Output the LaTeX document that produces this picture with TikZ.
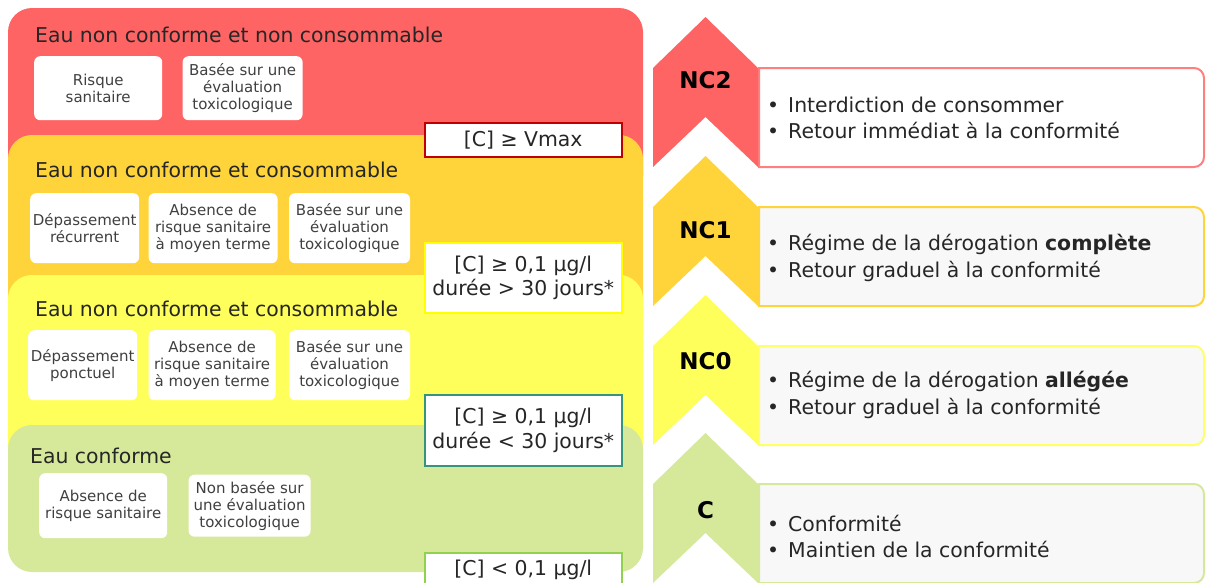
\documentclass[tikz,border=0pt]{standalone}
\usepackage{fontspec}
\setmainfont{DejaVu Sans}
\usetikzlibrary{positioning}

\definecolor{ncred}{HTML}{FF6464}
\definecolor{ncorange}{HTML}{FFD43B}
\definecolor{ncyellow}{HTML}{FFFF5C}
\definecolor{ncgreen}{HTML}{D6E99B}
\definecolor{vmaxred}{HTML}{C00000}
\definecolor{longyellow}{HTML}{FFFF00}
\definecolor{shortteal}{HTML}{36947A}
\definecolor{confgreen}{HTML}{92D050}
\definecolor{nctwoline}{HTML}{FF7F7F}
\definecolor{nczeroline}{HTML}{FFFF66}
\definecolor{boxgray}{HTML}{F8F8F8}

\newcommand{\puce}{•\hspace{9pt}}

\begin{document}
\begin{tikzpicture}[
    x=1pt, y=-1pt,
    node distance=10pt,
    panel/.style={rounded corners=24pt},
    title/.style={anchor=base west, inner sep=0pt, font=\fontsize{20.4}{24}\selectfont, text=black!85},
    cbox/.style={rectangle, fill=white, rounded corners=6pt, inner sep=0pt, align=center, font=\fontsize{15}{17}\selectfont, text=black!75},
    seuil/.style={rectangle, fill=white, line width=2.5pt, inner sep=0pt, minimum width=197pt, anchor=north west, align=center, font=\fontsize{20.4}{24.5}\selectfont, text=black!85},
    niveau/.style={inner sep=0pt, font=\fontsize{23}{23}\selectfont\bfseries},
    puces/.style={anchor=west, inner sep=0pt, align=left, font=\fontsize{20.4}{26.5}\selectfont, text=black!85}
]
    \useasboundingbox (0,0) rectangle (1206,582);

    % Panels
    \fill[ncred, panel] (8,8) rectangle (643,200);
    \fill[ncorange, panel] (8,135) rectangle (643,340);
    \fill[ncyellow, panel] (8,275) rectangle (643,480);
    \fill[ncgreen, panel] (8,425) rectangle (643,572);

    % Titles
    \node[title] (t-nc2) at (35,42) {Eau non conforme et non consommable};
    \node[title] (t-nc1) at (35,177) {Eau non conforme et consommable};
    \node[title] (t-nc0) at (35,316) {Eau non conforme et consommable};
    \node[title] (t-c) at (30,463) {Eau conforme};

    % Criteria
    \node[cbox, minimum width=128pt, minimum height=64pt, anchor=north west] (b1a) at (34,56) {Risque\\sanitaire};
    \node[cbox, minimum width=120pt, minimum height=64pt, right=20pt of b1a] (b1b) {Basée sur une\\évaluation\\toxicologique};

    \node[cbox, minimum width=109pt, minimum height=70pt, anchor=north west] (b2a) at (30,193) {Dépassement\\récurrent};
    \node[cbox, minimum width=129pt, minimum height=70pt, right=9pt of b2a] (b2b) {Absence de\\risque sanitaire\\à moyen terme};
    \node[cbox, minimum width=121pt, minimum height=70pt, right=11pt of b2b] (b2c) {Basée sur une\\évaluation\\toxicologique};

    \node[cbox, minimum width=109pt, minimum height=70pt, anchor=north west] (b3a) at (28,330) {Dépassement\\ponctuel};
    \node[cbox, minimum width=127pt, minimum height=70pt, right=11pt of b3a] (b3b) {Absence de\\risque sanitaire\\à moyen terme};
    \node[cbox, minimum width=121pt, minimum height=70pt, right=13pt of b3b] (b3c) {Basée sur une\\évaluation\\toxicologique};

    \node[cbox, minimum width=128pt, minimum height=65pt, anchor=north west] (b4a) at (39,473) {Absence de\\risque sanitaire};
    \node[cbox, minimum width=122pt, minimum height=62pt, right=21pt of b4a] (b4b) {Non basée sur\\une évaluation\\toxicologique};

    % Thresholds
    \node[seuil, draw=vmaxred, minimum height=34pt] (s-vmax) at (423.5,121.5) {[C] ≥ Vmax};
    \node[seuil, draw=longyellow, minimum height=70pt] (s-long) at (423.5,241.5) {[C] ≥ 0,1 µg/l\\durée > 30 jours*};
    \node[seuil, draw=shortteal, minimum height=71pt] (s-court) at (423.5,393.5) {[C] ≥ 0,1 µg/l\\durée < 30 jours*};
    \node[seuil, draw=confgreen, minimum height=34pt] (s-conf) at (423.5,551.5) {[C] < 0,1 µg/l};

    % Levels
    \foreach \lab/\col/\bord/\fond/\h/\ly in {NC2/ncred/nctwoline/white/17/80, NC1/ncorange/ncorange/boxgray/156/230, NC0/ncyellow/nczeroline/boxgray/295/361, C/ncgreen/ncgreen/boxgray/433/510} {
        \filldraw[fill=\fond, draw=\bord, line width=2pt] (759,\h+51) -- (1194,\h+51)
            arc[start angle=90, end angle=0, radius=10pt] -- (1204,\h+140)
            arc[start angle=0, end angle=-90, radius=10pt] -- (759,\h+150) -- cycle;
        \fill[\col] (653,\h+51) -- (705.5,\h) -- (758,\h+51) -- (758,\h+150) -- (705.5,\h+100) -- (653,\h+150) -- cycle;
        \node[niveau] (n-\lab) at (705.5,\ly) {\lab};
    }

    % Measures
    \node[puces] (p-nc2) at (767,118) {\puce Interdiction de consommer\\\puce Retour immédiat à la conformité};
    \node[puces] (p-nc1) at (767,258) {\puce Régime de la dérogation \textbf{complète}\\\puce Retour graduel à la conformité};
    \node[puces] (p-nc0) at (767,395) {\puce Régime de la dérogation \textbf{allégée}\\\puce Retour graduel à la conformité};
    \node[puces] (p-c) at (767,536.5) {\puce Conformité\\\puce Maintien de la conformité};

\end{tikzpicture}
\end{document}
